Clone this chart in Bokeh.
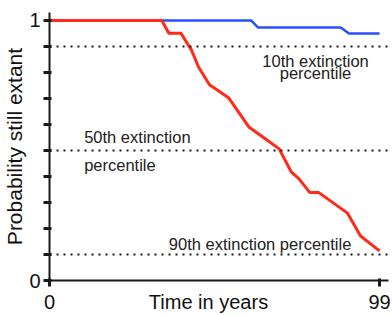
from bokeh.plotting import figure
from bokeh.models import FixedTicker, Range1d, Span, ColumnDataSource
from bokeh.core.properties import value
from bokeh.embed import file_html
from bokeh.resources import INLINE

# Data
red_t = [0, 33.7, 35.8, 39.4, 42.6, 44.7, 48.0, 53.7, 59.9, 64.1, 68.9, 72.5, 74.8, 78.1, 80.8, 89.4, 93.3, 99.0]
red_p = [1.0, 1.0, 0.951, 0.951, 0.886, 0.821, 0.753, 0.703, 0.589, 0.551, 0.506, 0.418, 0.392, 0.338, 0.338, 0.259, 0.171, 0.114]
blue_t = [0, 60.5, 62.5, 87.4, 89.8, 99.0]
blue_p = [1.0, 1.0, 0.973, 0.973, 0.95, 0.95]
percentile_levels = [0.9, 0.5, 0.1]
y_ticks = [0, 0.1, 0.2, 0.3, 0.4, 0.5, 0.6, 0.7, 0.8, 0.9, 1.0]
y_tick_labels = {0: "0", 1: "1"}
x_ticks = [0, 99]
x_tick_labels = {0: "0", 99: "99"}
x_title = "Time in years"
x_title_pos = 47.7
note_text = ["10th extinction", "percentile", "50th extinction", "percentile", "90th extinction percentile"]
note_x = [79.8, 79.8, 10.4, 10.4, 35.8]
note_y = [0.845, 0.797, 0.550, 0.446, 0.140]
note_align = ["center", "center", "left", "left", "left"]

FONT = "Liberation Sans"
INK = "#1a1a1a"

p = figure(width=392, height=315, output_backend="svg", toolbar_location=None,
           x_range=Range1d(0, 101.69), y_range=Range1d(0, 1.0305),
           min_border_left=47, min_border_right=4, min_border_top=12, min_border_bottom=33)
p.outline_line_color = None
p.grid.visible = False
p.background_fill_color = "white"

# y axis
p.yaxis.ticker = FixedTicker(ticks=y_ticks)
p.yaxis.major_label_overrides = {t: y_tick_labels.get(t, "") for t in y_ticks}
p.yaxis.axis_label = "Probability still extant"
p.yaxis.axis_label_text_font = FONT
p.yaxis.axis_label_text_font_style = "normal"
p.yaxis.axis_label_text_font_size = "21px"
p.yaxis.axis_label_standoff = 0
p.yaxis.major_label_text_font = FONT
p.yaxis.major_label_text_font_size = "20px"
p.yaxis.major_label_standoff = 3
p.yaxis.major_label_orientation = "horizontal"
p.yaxis.minor_tick_line_color = None
p.yaxis.major_tick_in = 2
p.yaxis.major_tick_out = 6
p.yaxis.major_tick_line_width = 3
p.yaxis.major_tick_line_color = INK

# x axis: the axis title shares the line of the tick labels, as in the reference
p.xaxis.ticker = FixedTicker(ticks=x_ticks + [x_title_pos], minor_ticks=x_ticks)
overrides = dict(x_tick_labels)
overrides[x_title_pos] = x_title
p.xaxis.major_label_overrides = overrides
p.xaxis.major_label_text_font = FONT
p.xaxis.major_label_text_font_size = "20px"
p.xaxis.major_label_standoff = 4
p.xaxis.major_tick_in = 0
p.xaxis.major_tick_out = 0
p.xaxis.minor_tick_in = 2
p.xaxis.minor_tick_out = 6
p.xaxis.minor_tick_line_width = 3
p.xaxis.minor_tick_line_color = INK

for ax in (p.xaxis, p.yaxis):
    ax.axis_line_width = 2
    ax.axis_line_color = INK
    ax.major_label_text_color = "#111111"
    ax.axis_label_text_color = "#111111"

# dotted percentile lines
for lv in percentile_levels:
    p.add_layout(Span(location=lv, dimension="width", line_color=INK,
                      line_width=2, line_dash="2 5"))

# curves
p.line(blue_t, blue_p, line_color="#2a4fff", line_width=2.5)
p.line(red_t, red_p, line_color="#ff2a1a", line_width=3)

src = ColumnDataSource(dict(x=note_x, y=note_y, t=note_text, a=note_align))
p.text(x="x", y="y", text="t", text_align="a", source=src, text_font=value(FONT),
       text_font_size="16.5px", text_baseline="alphabetic", text_color="#222222")

open("out.html", "w").write(file_html(p, INLINE))
